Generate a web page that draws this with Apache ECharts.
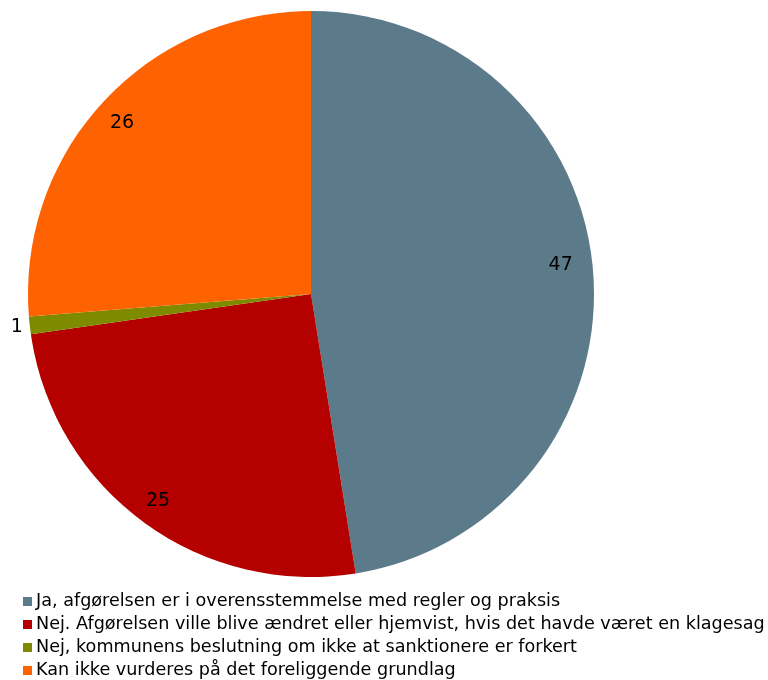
<!DOCTYPE html>
<html><head><meta charset="utf-8">
<script src="https://cdn.jsdelivr.net/npm/echarts@6/dist/echarts.min.js"></script>
<style>html,body{margin:0;padding:0;background:#fff}#c{width:768px;height:680px}</style>
</head><body><div id="c"></div>
<script>
const categories = [
  "Ja, afgørelsen er i overensstemmelse med regler og praksis",
  "Nej. Afgørelsen ville blive ændret eller hjemvist, hvis det havde været en klagesag",
  "Nej, kommunens beslutning om ikke at sanktionere er forkert",
  "Kan ikke vurderes på det foreliggende grundlag"
];
const values = [47, 25, 1, 26];
const colors = ["#5b7a8a", "#b50000", "#7e8a00", "#ff6200"];
const insideLabel = [true, true, false, true];

const chart = echarts.init(document.getElementById('c'));
const center = [311, 294];
const R = 283;
const font = "DejaVu Sans";
const labelStyle = { formatter: '{c}', fontFamily: font, fontSize: 19, color: '#000' };
const labelOffsets = [[-4, -9], [-2, 2], [3, 0], [-2, 2]];
chart.setOption({
  animation: false,
  color: colors,
  legend: {
    orient: 'vertical', left: 23, top: 592.5, padding: 0, itemWidth: 9, itemHeight: 9, itemGap: 5,
    icon: 'rect', height: 88,
    textStyle: { fontFamily: font, fontSize: 17.6, color: '#000', padding: [0,0,0,-1], lineHeight: 17.5 },
    data: categories
  },
  series: [
    {
      type: 'pie', center: center, radius: [0, R], startAngle: 90, clockwise: true,
      label: { show: false }, labelLine: { show: false },
      itemStyle: { borderWidth: 0 }, silent: true,
      data: categories.map((n, i) => ({ name: n, value: values[i] }))
    },
    {
      type: 'pie', center: center, radius: [220, R], startAngle: 90, clockwise: true,
      silent: true, legendHoverLink: false,
      itemStyle: { color: 'rgba(0,0,0,0)' },
      label: Object.assign({ show: true, position: 'inside' }, labelStyle),
      labelLine: { show: false },
      data: categories.map((n, i) => ({ name: n, value: values[i], label: { show: insideLabel[i], offset: labelOffsets[i] } }))
    },
    {
      type: 'pie', center: center, radius: [R, R + 26], startAngle: 90, clockwise: true,
      silent: true, legendHoverLink: false,
      itemStyle: { color: 'rgba(0,0,0,0)' },
      label: Object.assign({ show: true, position: 'inside' }, labelStyle),
      labelLine: { show: false },
      data: categories.map((n, i) => ({ name: n, value: values[i], label: { show: !insideLabel[i], offset: labelOffsets[i] } }))
    }
  ]
});
</script></body></html>
